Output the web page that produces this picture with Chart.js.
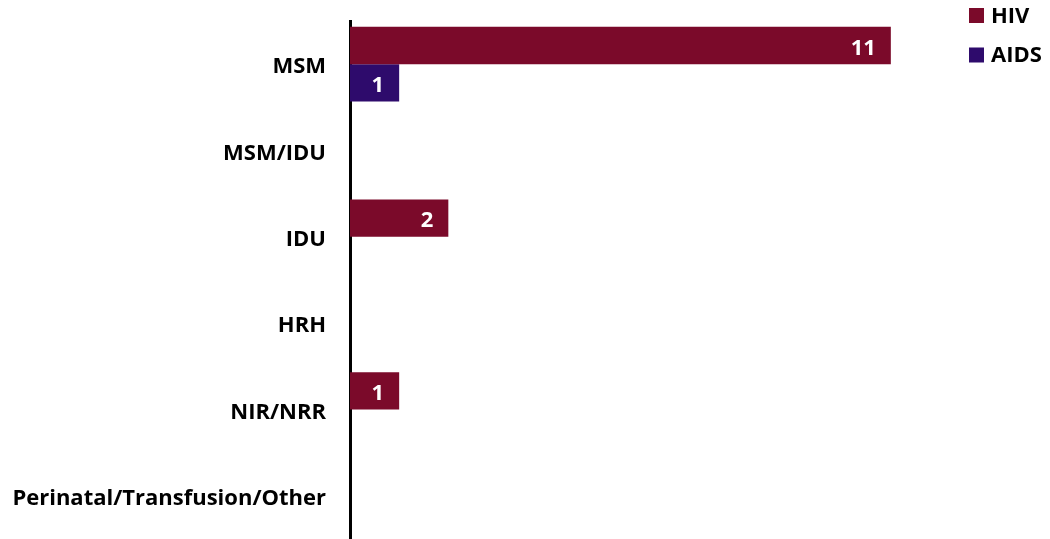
<!DOCTYPE html>
<html>
<head>
<meta charset="utf-8">
<script src="https://cdn.jsdelivr.net/npm/chart.js@4"></script>
<style>
    html, body { margin: 0; padding: 0; background: #fff; }
    canvas { display: block; }
</style>
</head>
<body>
<canvas id="riskChart" width="1050" height="539"></canvas>
<script>
var categories = ['MSM', 'MSM/IDU', 'IDU', 'HRH', 'NIR/NRR', 'Perinatal/Transfusion/Other'];
var hivValues = [11, 0, 2, 0, 1, 0];
var aidsValues = [1, 0, 0, 0, 0, 0];
var seriesNames = ['HIV', 'AIDS'];

var hivColor = '#7b0a2a';
var aidsColor = '#2e0b6c';
var fontFamily = '"Open Sans", Lato, sans-serif';

// white value labels drawn inside the end of each non-zero bar
var barValueLabels = {
    id: 'barValueLabels',
    afterDatasetsDraw: function(chart) {
        var ctx = chart.ctx;
        ctx.save();
        ctx.font = 'bold 22px ' + fontFamily;
        ctx.fillStyle = '#ffffff';
        ctx.textAlign = 'right';
        ctx.textBaseline = 'middle';
        chart.data.datasets.forEach(function(ds, i) {
            var meta = chart.getDatasetMeta(i);
            meta.data.forEach(function(bar, j) {
                var v = ds.data[j];
                if (!v) return;
                ctx.fillText(String(v), bar.x - 15, bar.y + 3);
            });
        });
        ctx.restore();
    }
};

// legend in the top right corner, square swatches next to bold names
var cornerLegend = {
    id: 'cornerLegend',
    afterDraw: function(chart) {
        var ctx = chart.ctx;
        var x = chart.chartArea.right + 29;
        ctx.save();
        ctx.font = 'bold 22px ' + fontFamily;
        ctx.textAlign = 'left';
        ctx.textBaseline = 'middle';
        chart.data.datasets.forEach(function(ds, i) {
            var y = 15.5 + i * 39.5;
            ctx.fillStyle = ds.backgroundColor;
            ctx.fillRect(x, y - 7.5, 15, 15);
            ctx.fillStyle = '#000000';
            ctx.fillText(ds.label, x + 22, y + 1);
        });
        ctx.restore();
    }
};

var ctx = document.getElementById('riskChart').getContext('2d');
var riskChart = new Chart(ctx, {
    type: 'bar',
    data: {
        labels: categories,
        datasets: [{
            label: seriesNames[0],
            data: hivValues,
            backgroundColor: hivColor,
            categoryPercentage: 0.865,
            barPercentage: 1.0
        }, {
            label: seriesNames[1],
            data: aidsValues,
            backgroundColor: aidsColor,
            categoryPercentage: 0.865,
            barPercentage: 1.0
        }]
    },
    options: {
        indexAxis: 'y',
        responsive: false,
        animation: false,
        layout: {
            autoPadding: false,
            padding: { top: 21, bottom: 0, left: 0, right: 110 }
        },
        scales: {
            x: {
                display: false,
                min: 0,
                max: 12
            },
            y: {
                afterFit: function(scale) {
                    scale.width = 350;
                    scale.paddingTop = 0;
                    scale.paddingBottom = 0;
                },
                grid: { display: false, drawTicks: false },
                border: { display: true, color: '#000000', width: 3 },
                ticks: {
                    color: '#000000',
                    padding: 24,
                    labelOffset: 3,
                    font: { family: fontFamily, size: 22, weight: 'bold' }
                }
            }
        },
        plugins: {
            legend: { display: false },
            tooltip: { enabled: false }
        }
    },
    plugins: [barValueLabels, cornerLegend]
});
</script>
</body>
</html>
